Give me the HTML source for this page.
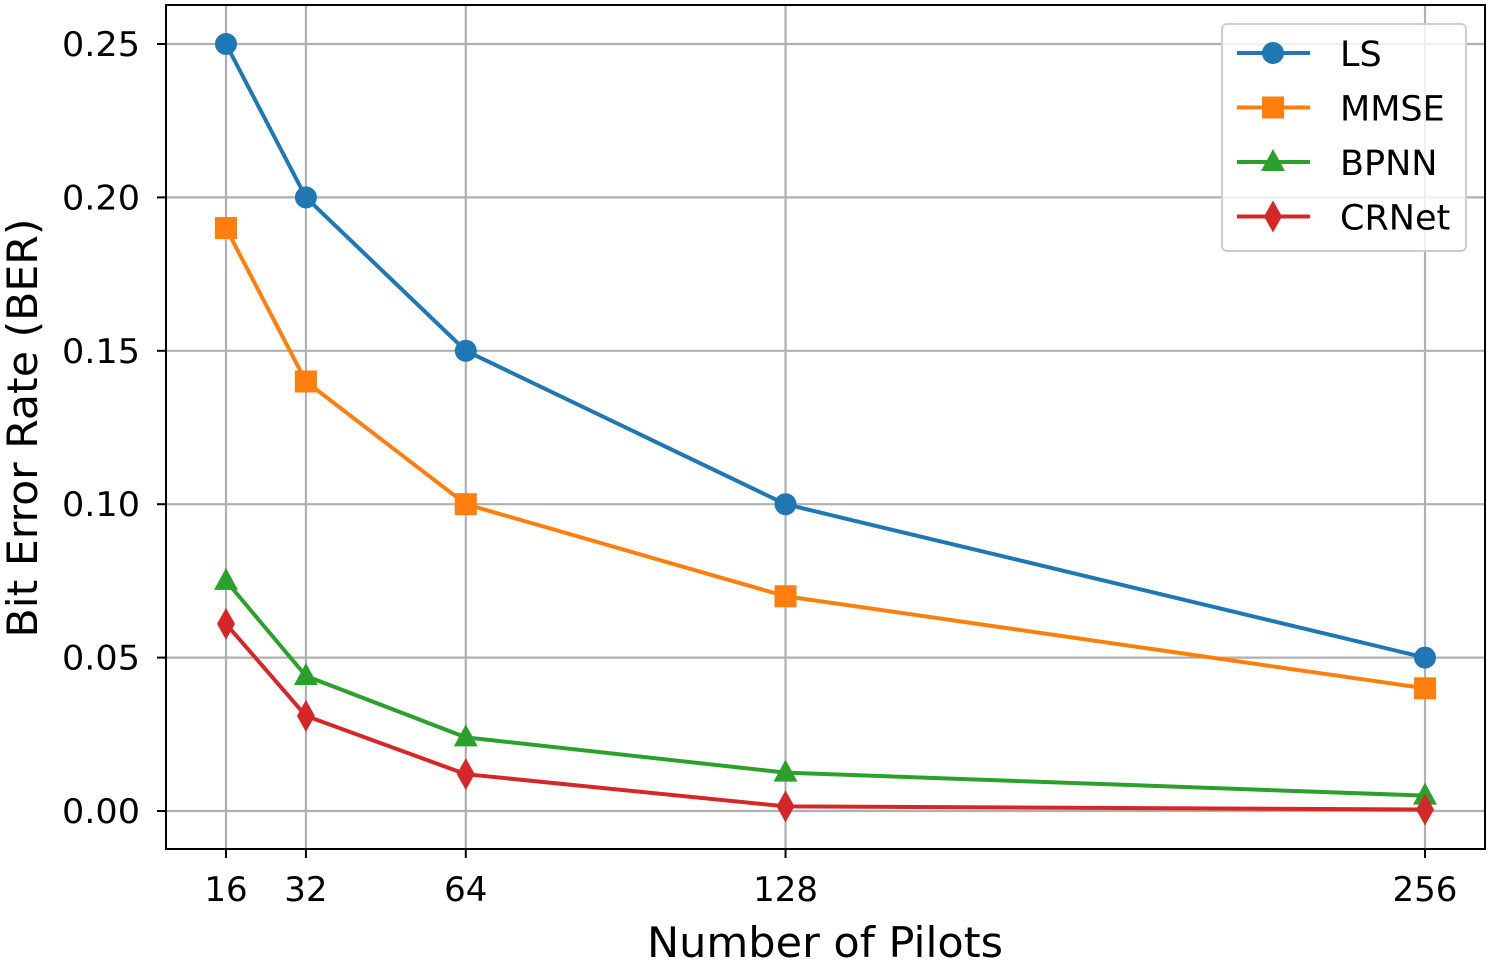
<!DOCTYPE html>
<html><head><meta charset="utf-8"><style>
body{margin:0;background:#fff}
svg{display:block;font-family:"DejaVu Sans","Liberation Sans",sans-serif}
</style></head><body>
<svg id="c" width="1491" height="963" viewBox="0 0 1491 963"></svg>
<script>
const pilots=[16,32,64,128,256];
const lsVals=[0.25,0.20,0.15,0.10,0.05];
const mmseVals=[0.19,0.14,0.10,0.07,0.04];
const bpnnVals=[0.075,0.044,0.024,0.0125,0.005];
const crnetVals=[0.061,0.031,0.012,0.0015,0.0005];
const yTicks=[0,0.05,0.10,0.15,0.20,0.25];
const yTickLabels=["0.00","0.05","0.10","0.15","0.20","0.25"];
const seriesNames=["LS","MMSE","BPNN","CRNet"];

const svg=document.getElementById('c');
const NS='http://www.w3.org/2000/svg';
const L=166,R=1485,T=5,B=849;
function xs(v){return 226+(v-16)*(1425-226)/240;}
function ys(v){return 811-v*(811-44)/0.25;}
function mk(tag,attrs,parent){const e=document.createElementNS(NS,tag);for(const k in attrs)e.setAttribute(k,attrs[k]);(parent||svg).appendChild(e);return e;}

const grid=mk('g',{});


pilots.forEach(p=>{mk('line',{x1:xs(p),x2:xs(p),y1:T,y2:B,stroke:'#b0b0b0','stroke-width':2.2},grid);});
yTicks.forEach(v=>{mk('line',{x1:L,x2:R,y1:ys(v),y2:ys(v),stroke:'#b0b0b0','stroke-width':2.2},grid);});

const ax=mk('g',{});


mk('rect',{x:L,y:T,width:R-L,height:B-T,fill:'none',stroke:'#000','stroke-width':2},ax);
yTicks.forEach((v,i)=>{
  mk('line',{x1:L-9,x2:L,y1:ys(v),y2:ys(v),stroke:'#000','stroke-width':2},ax);
  const t=mk('text',{x:L-26,y:ys(v)+12,'text-anchor':'end','font-size':34,textLength:78,lengthAdjust:'spacingAndGlyphs'},ax);t.textContent=yTickLabels[i];
  
  
});
pilots.forEach(p=>{
  mk('line',{x1:xs(p),x2:xs(p),y1:B,y2:B+9,stroke:'#000','stroke-width':2},ax);
  const t=mk('text',{x:xs(p),y:B+52,'text-anchor':'middle','font-size':34},ax);t.textContent=p;
  
  
});
const xt=mk('text',{x:825,y:957,'text-anchor':'middle','font-size':42,textLength:356,lengthAdjust:'spacingAndGlyphs'});xt.textContent='Number of Pilots';


const yt=mk('text',{x:0,y:0,'text-anchor':'middle','font-size':42,textLength:419,lengthAdjust:'spacingAndGlyphs',transform:'translate(37,428) rotate(-90)'});yt.textContent='Bit Error Rate (BER)';



const colors=['#1f77b4','#ff7f0e','#2ca02c','#d62728'];
const shapes=['circle','square','triangle','diamond'];
function marker(g,x,y,s,c){
  if(s==='circle')mk('circle',{cx:x,cy:y,r:11,fill:c},g);
  else if(s==='square')mk('rect',{x:x-11,y:y-11,width:22,height:22,fill:c},g);
  else if(s==='triangle')mk('polygon',{points:`${x},${y-13} ${x+12},${y+9} ${x-12},${y+9}`,fill:c},g);
  else mk('polygon',{points:`${x},${y-16} ${x+9},${y} ${x},${y+16} ${x-9},${y}`,fill:c},g);
}
[lsVals,mmseVals,bpnnVals,crnetVals].forEach((vals,si)=>{
  const g=mk('g',{});
  
  
  mk('polyline',{points:pilots.map((p,i)=>xs(p)+','+ys(vals[i])).join(' '),fill:'none',stroke:colors[si],'stroke-width':4,'stroke-linejoin':'round'},g);
  pilots.forEach((p,i)=>marker(g,xs(p),ys(vals[i]),shapes[si],colors[si]));
});

const lg=mk('g',{});


mk('rect',{x:1222,y:24,width:244,height:227,rx:5,fill:'#fff','fill-opacity':0.8,stroke:'#ccc','stroke-width':2},lg);
const legendWidths=[46,105,96,117];
seriesNames.forEach((n,i)=>{
  const y=53+i*54.5;
  const e=mk('g',{},lg);
  
  
  mk('line',{x1:1237,x2:1310,y1:y,y2:y,stroke:colors[i],'stroke-width':4},e);
  marker(e,1273,y,shapes[i],colors[i]);
  const t=mk('text',{x:1340,y:y+13,'font-size':35},e);t.textContent=n;
});
</script>
</body></html>
